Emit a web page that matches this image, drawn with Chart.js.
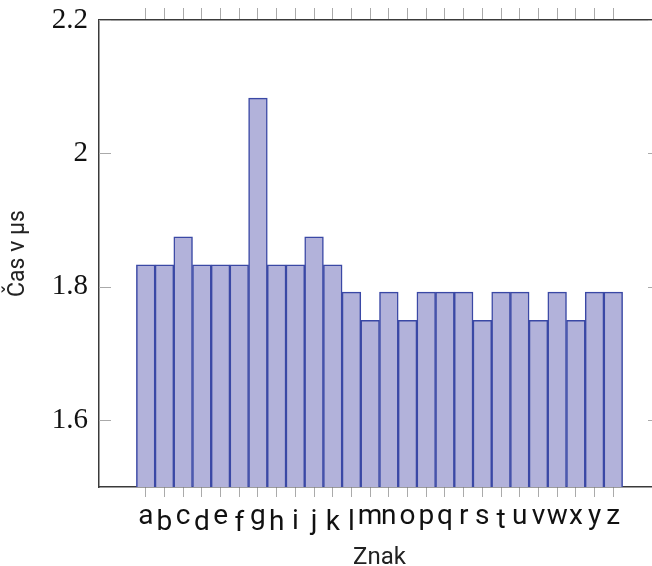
<!DOCTYPE html>
<html>
<head>
<meta charset="utf-8">
<script src="https://cdn.jsdelivr.net/npm/chart.js@4.4.1/dist/chart.umd.min.js"></script>
<style>
  html, body { margin: 0; padding: 0; background: #fff; overflow: hidden; width: 652px; height: 566px; }
  canvas { display: block; }
</style>
</head>
<body>
<canvas id="c" width="662" height="566"></canvas>
<script>
const categories = ['a','b','c','d','e','f','g','h','i','j','k','l','m','n','o','p','q','r','s','t','u','v','w','x','y','z'];
const times = [1.833, 1.833, 1.875, 1.833, 1.833, 1.833, 2.083, 1.833, 1.833, 1.875, 1.833,
               1.792, 1.75, 1.792, 1.75, 1.792, 1.792, 1.792, 1.75, 1.792, 1.792, 1.75, 1.792, 1.75, 1.792, 1.792];
const yTickValues = [1.6, 1.8, 2.0, 2.2];
const yTickLabels = ['1.6', '1.8', '2', '2.2'];
const yTitle = 'Čas v μs';
const xTitle = 'Znak';

const catIndex = categories.map((_, i) => i);

const xLabelsPlugin = {
  id: 'xLabels',
  afterDraw(chart) {
    const ctx = chart.ctx;
    const xs = chart.scales.x;
    const top = chart.chartArea.bottom + 22;
    ctx.save();
    ctx.font = '28px Roboto';
    ctx.fillStyle = '#111';
    ctx.textAlign = 'center';
    ctx.textBaseline = 'alphabetic';
    categories.forEach((c, i) => {
      const m = ctx.measureText(c);
      ctx.fillText(c, xs.getPixelForValue(i), top + m.actualBoundingBoxAscent);
    });
    ctx.restore();
  }
};

const yInnerTicks = {
  id: 'yInnerTicks',
  afterDraw(chart) {
    const ctx = chart.ctx;
    const ys = chart.scales.y;
    const a = chart.chartArea;
    ctx.save();
    ctx.strokeStyle = '#aaaaaa';
    ctx.lineWidth = 1;
    yTickValues.forEach(v => {
      const y = Math.round(ys.getPixelForValue(v)) + 0.5;
      ctx.beginPath();
      ctx.moveTo(a.left, y); ctx.lineTo(a.left + 12, y);
      ctx.moveTo(a.right - 12, y); ctx.lineTo(a.right, y);
      ctx.stroke();
    });
    ctx.restore();
  }
};

new Chart(document.getElementById('c'), {
  type: 'bar',
  data: {
    datasets: [{
      data: times.map((v, i) => ({ x: i, y: v })),
      backgroundColor: 'rgb(178,178,218)',
      borderColor: 'rgb(58,72,165)',
      borderWidth: 1.5,
      borderSkipped: false,
      barPercentage: 1,
      categoryPercentage: 1
    }]
  },
  options: {
    responsive: false,
    animation: false,
    devicePixelRatio: 1,
    layout: { padding: { left: 0, right: 2, top: 0, bottom: 0 } },
    plugins: { legend: { display: false }, tooltip: { enabled: false } },
    scales: {
      x: {
        type: 'linear',
        position: 'bottom',
        offset: false,
        min: -2.5,
        max: 27.5,
        afterBuildTicks: s => { s.ticks = catIndex.map(v => ({ value: v })); },
        afterFit: s => { s.height = 79; s.paddingLeft = 0; s.paddingRight = 0; },
        grid: { offset: false, drawOnChartArea: false, drawTicks: true, tickLength: 10, tickColor: '#aaaaaa', tickWidth: 1 },
        border: { display: true, color: '#3a3a3a', width: 1.5 },
        ticks: { display: false },
        title: { display: true, text: xTitle, font: { family: 'Roboto', size: 24 }, color: '#222', padding: { top: 0, bottom: -6.5 } }
      },
      x2: {
        type: 'linear',
        position: 'top',
        offset: false,
        min: -2.5,
        max: 27.5,
        afterBuildTicks: s => { s.ticks = catIndex.map(v => ({ value: v })); },
        afterFit: s => { s.height = 20; s.paddingLeft = 0; s.paddingRight = 0; },
        grid: { offset: false, drawOnChartArea: false, drawTicks: true, tickLength: 12, tickColor: '#aaaaaa', tickWidth: 1 },
        border: { display: true, color: '#3a3a3a', width: 1.5 },
        ticks: { display: false }
      },
      y: {
        type: 'linear',
        min: 1.5,
        max: 2.2,
        afterBuildTicks: s => { s.ticks = yTickValues.map(v => ({ value: v })); },
        afterFit: s => { s.width = 99; s.paddingTop = 0; s.paddingBottom = 0; },
        grid: { drawOnChartArea: false, drawTicks: false },
        border: { display: true, color: '#3a3a3a', width: 1.5 },
        ticks: {
          padding: 11,
          color: '#111',
          font: { family: 'Liberation Serif', size: 29 },
          callback: v => yTickLabels[yTickValues.indexOf(v)]
        },
        title: { display: true, text: yTitle, font: { family: 'Roboto', size: 23 }, color: '#222', padding: { top: 4, bottom: 0 } }
      }
    }
  },
  plugins: [xLabelsPlugin, yInnerTicks]
});
</script>
</body>
</html>
